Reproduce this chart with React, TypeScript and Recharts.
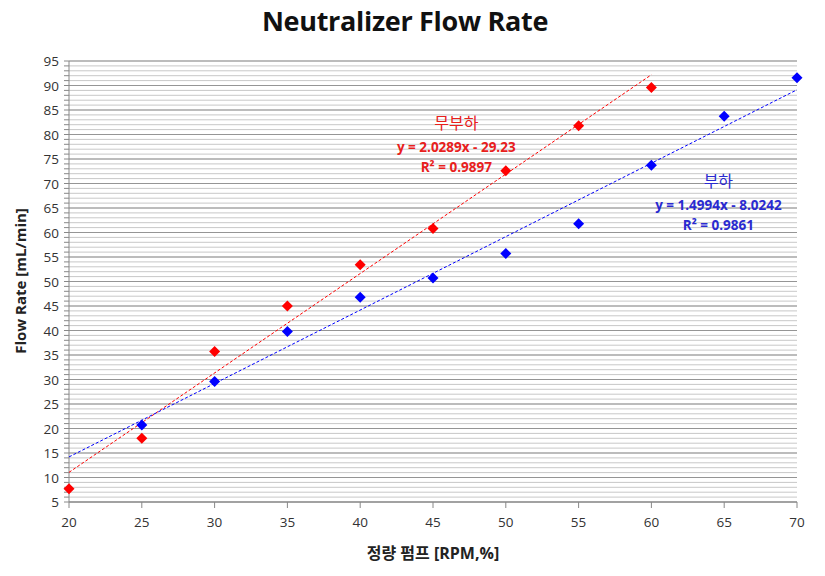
import React from "react";
import {
  ScatterChart,
  Scatter,
  XAxis,
  YAxis,
  CartesianGrid,
  ReferenceLine,
  ReferenceDot,
} from "recharts";

// 무부하 (no load)
const noLoadX = [20, 25, 30, 35, 40, 45, 50, 55, 60];
const noLoadY = [7.7, 18, 35.7, 45, 53.4, 60.8, 72.6, 81.8, 89.6];

// 부하 (load)
const loadX = [25, 30, 35, 40, 45, 50, 55, 60, 65, 70];
const loadY = [20.7, 29.6, 39.8, 46.8, 50.7, 55.7, 61.8, 73.7, 83.7, 91.6];

const xTicks = [20, 25, 30, 35, 40, 45, 50, 55, 60, 65, 70];
const yTicks = [5, 10, 15, 20, 25, 30, 35, 40, 45, 50, 55, 60, 65, 70, 75, 80, 85, 90, 95];
const yMinorTicks = Array.from({ length: 91 }, (_, i) => 5 + i);

const noLoadLabel = ["무부하", "y = 2.0289x - 29.23", "R² = 0.9897"];
const loadLabel = ["부하", "y = 1.4994x - 8.0242", "R² = 0.9861"];

const FONT = "'Open Sans', 'Noto Sans CJK KR', sans-serif";
const RED = "#ff0000";
const BLUE = "#0000ff";

// least squares fit -> two end points for the dashed trend line
function trend(xs: number[], ys: number[], x0: number, x1: number) {
  const n = xs.length;
  const mx = xs.reduce((a, b) => a + b, 0) / n;
  const my = ys.reduce((a, b) => a + b, 0) / n;
  let sxy = 0;
  let sxx = 0;
  xs.forEach((x, i) => {
    sxy += (x - mx) * (ys[i] - my);
    sxx += (x - mx) * (x - mx);
  });
  const m = sxy / sxx;
  const b = my - m * mx;
  return [
    { x: x0, y: m * x0 + b },
    { x: x1, y: m * x1 + b },
  ];
}

const noLoadData = noLoadX.map((x, i) => ({ x, y: noLoadY[i] }));
const loadData = loadX.map((x, i) => ({ x, y: loadY[i] }));
const noLoadTrend = trend(noLoadX, noLoadY, 20, 60);
const loadTrend = trend(loadX, loadY, 20, 70);

const Diamond = (props: any) => {
  const { cx, cy, fill } = props;
  const r = 5.5;
  return (
    <path
      d={`M${cx},${cy - r} L${cx + r},${cy} L${cx},${cy + r} L${cx - r},${cy} Z`}
      fill={fill}
    />
  );
};

const YTick = (props: any) => {
  const { x, y, payload } = props;
  if (payload.value % 5 !== 0) return null;
  return (
    <text x={x - 3} y={y} dy={5} textAnchor="end" fontSize={13.5} fill="#333" fontFamily={FONT}>
      {payload.value}
    </text>
  );
};

const annotation = (lines: string[], color: string) => (props: any) => {
  const { cx, cy } = props;
  return (
    <g fontFamily={FONT} fill={color} textAnchor="middle">
      <text x={cx} y={cy} fontSize={16}>{lines[0]}</text>
      <text x={cx} y={cy + 23} fontSize={13.5} fontWeight="bold">{lines[1]}</text>
      <text x={cx} y={cy + 43} fontSize={13.5} fontWeight="bold">{lines[2]}</text>
    </g>
  );
};

export default function App() {
  return (
    <div
      style={{
        position: "absolute",
        left: 0,
        top: 0,
        width: 825,
        height: 576,
        background: "#fff",
        fontFamily: FONT,
      }}
    >
      <div
        style={{
          position: "absolute",
          top: 2,
          left: 0,
          width: 810,
          textAlign: "center",
          fontSize: 27,
          fontWeight: "bold",
          color: "#111",
          letterSpacing: -0.3,
        }}
      >
        Neutralizer Flow Rate
      </div>
      <div
        style={{
          position: "absolute",
          left: 20,
          top: 281,
          transform: "translate(-50%, -50%) rotate(-90deg)",
          fontSize: 15,
          fontWeight: "bold",
          color: "#222",
          whiteSpace: "nowrap",
        }}
      >
        Flow Rate [mL/min]
      </div>
      <div
        style={{
          position: "absolute",
          left: 433,
          top: 552,
          transform: "translate(-50%, -50%)",
          fontSize: 16,
          fontWeight: "bold",
          color: "#222",
          whiteSpace: "nowrap",
        }}
      >
        정량 펌프 [RPM,%]
      </div>
      <ScatterChart
        width={825}
        height={576}
        margin={{ top: 61, right: 28, bottom: 44, left: 25 }}
      >
        <CartesianGrid vertical={false} stroke="#c8c8c8" strokeWidth={1} />
        {yTicks.map((v) => (
          <ReferenceLine key={v} y={v} stroke="#959595" strokeWidth={1} />
        ))}
        <XAxis
          type="number"
          dataKey="x"
          domain={[20, 70]}
          ticks={xTicks}
          interval={0}
          stroke="#888"
          tickSize={6}
          tick={{ fill: "#333", fontSize: 13.5, fontFamily: FONT }}
          tickMargin={9}
          height={30}
        />
        <YAxis
          type="number"
          dataKey="y"
          domain={[5, 95]}
          ticks={yMinorTicks}
          interval={0}
          stroke="#888"
          tickSize={5}
          tick={<YTick />}
          width={44}
        />
        <Scatter
          data={noLoadTrend}
          line={{ stroke: RED, strokeWidth: 1, strokeDasharray: "3 2" }}
          shape={() => null}
          isAnimationActive={false}
        />
        <Scatter
          data={loadTrend}
          line={{ stroke: BLUE, strokeWidth: 1, strokeDasharray: "3 2" }}
          shape={() => null}
          isAnimationActive={false}
        />
        <Scatter data={noLoadData} fill={RED} shape={<Diamond />} isAnimationActive={false} />
        <Scatter data={loadData} fill={BLUE} shape={<Diamond />} isAnimationActive={false} />
        <ReferenceDot x={46.6} y={81.2} r={0} shape={annotation(noLoadLabel, "#e8201c")} />
        <ReferenceDot x={64.6} y={69.3} r={0} shape={annotation(loadLabel, "#2a2ad0")} />
      </ScatterChart>
    </div>
  );
}
